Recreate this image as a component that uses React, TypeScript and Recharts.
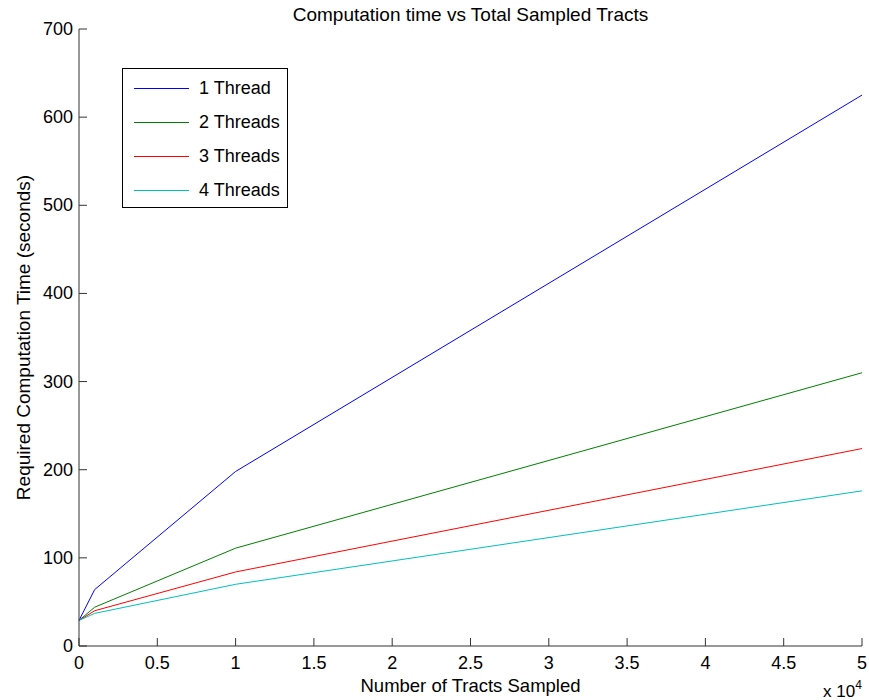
import { Legend, Line, LineChart, XAxis, YAxis } from "recharts";

const tracts = [0, 1000, 10000, 50000];
const oneThread = [29, 64, 198, 625];
const twoThreads = [29, 44, 111, 310];
const threeThreads = [29, 40, 84, 224];
const fourThreads = [29, 37, 70, 176];

const xTicks = [0, 5000, 10000, 15000, 20000, 25000, 30000, 35000, 40000, 45000, 50000];
const yTicks = [0, 100, 200, 300, 400, 500, 600, 700];

const seriesList = [
  { key: "t1", name: "1 Thread", color: "#0000ff", values: oneThread },
  { key: "t2", name: "2 Threads", color: "#008000", values: twoThreads },
  { key: "t3", name: "3 Threads", color: "#ff0000", values: threeThreads },
  { key: "t4", name: "4 Threads", color: "#00bfbf", values: fourThreads },
];

const data = tracts.map((x, i) => {
  const row: any = { x };
  seriesList.forEach((s) => (row[s.key] = s.values[i]));
  return row;
});

const FONT = "Arial, 'Liberation Sans', sans-serif";
const AXIS = "#333";

const XTick = (props: any) => {
  const { x, y, payload } = props;
  return (
    <g>
      <line x1={x} x2={x} y1={y} y2={y - 8} stroke={AXIS} />
      <text x={x} y={y + 23} textAnchor="middle" fontSize={18} fontFamily={FONT} fill="#000">
        {payload.value / 10000}
      </text>
    </g>
  );
};

const YTick = (props: any) => {
  const { x, y, payload } = props;
  return (
    <g>
      <line x1={x} x2={x + 8} y1={y} y2={y} stroke={AXIS} />
      <text x={x - 6} y={y + 6} textAnchor="end" fontSize={18} fontFamily={FONT} fill="#000">
        {payload.value}
      </text>
    </g>
  );
};

const LegendBox = () => (
  <div
    style={{
      width: 166,
      height: 140,
      border: "1px solid #000",
      background: "#fff",
      fontFamily: FONT,
      fontSize: 18,
      boxSizing: "border-box",
      paddingTop: 2,
    }}
  >
    {seriesList.map((s) => (
      <div key={s.key} style={{ display: "flex", alignItems: "center", height: 34 }}>
        <div style={{ width: 55, height: 1, background: s.color, marginLeft: 11, marginRight: 10 }} />
        <span>{s.name}</span>
      </div>
    ))}
  </div>
);

function App() {
  return (
    <div>
      <style>{`html,body{margin:0;padding:0;overflow:hidden;background:#fff}`}</style>
      <LineChart
        width={869}
        height={700}
        data={data}
        margin={{ top: 29, right: 7, bottom: 24, left: 19 }}
      >
        <XAxis
          dataKey="x"
          type="number"
          domain={[0, 50000]}
          ticks={xTicks}
          height={30}
          tickSize={0}
          tickMargin={0}
          tickLine={false}
          axisLine={{ stroke: AXIS }}
          tick={<XTick />}
          interval={0}
          label={(p: any) => {
            const vb = p.viewBox;
            const cx = vb.x + vb.width / 2;
            return (
              <g>
                <text x={cx} y={vb.y + 46} textAnchor="middle" fontSize={18.5} fontFamily={FONT} fill="#000">
                  Number of Tracts Sampled
                </text>
                <text x={vb.x + vb.width - 39} y={vb.y + 51} fontSize={17} fontFamily={FONT} fill="#000">
                  x 10
                  <tspan dy={-8} fontSize={12}>
                    4
                  </tspan>
                </text>
                <text x={cx} y={vb.y - 625} textAnchor="middle" fontSize={19} fontFamily={FONT} fill="#000">
                  Computation time vs Total Sampled Tracts
                </text>
              </g>
            );
          }}
        />
        <YAxis
          type="number"
          domain={[0, 700]}
          ticks={yTicks}
          width={60}
          tickSize={0}
          tickMargin={0}
          tickLine={false}
          axisLine={{ stroke: AXIS }}
          tick={<YTick />}
          interval={0}
          label={(p: any) => {
            const vb = p.viewBox;
            const cx = vb.x + 4;
            const cy = vb.y + vb.height / 2;
            return (
              <text
                x={cx}
                y={cy}
                transform={`rotate(-90 ${cx} ${cy})`}
                textAnchor="middle"
                dominantBaseline="central"
                fontSize={19}
                fontFamily={FONT}
                fill="#000"
              >
                Required Computation Time (seconds)
              </text>
            );
          }}
        />
        <Legend
          layout="vertical"
          align="center"
          verticalAlign="middle"
          content={<LegendBox />}
          wrapperStyle={{ left: 122, top: 68, width: 166, height: 140 }}
        />
        {seriesList.map((s) => (
          <Line
            key={s.key}
            dataKey={s.key}
            name={s.name}
            stroke={s.color}
            strokeWidth={1}
            dot={false}
            isAnimationActive={false}
          />
        ))}
      </LineChart>
    </div>
  );
}

export default App;
